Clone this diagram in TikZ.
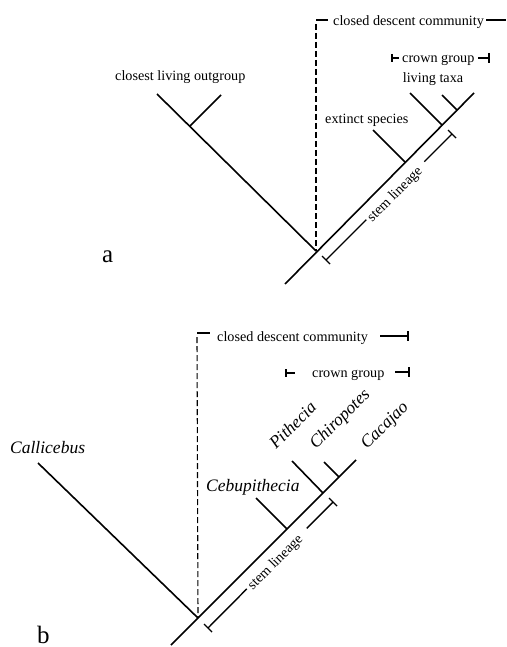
\documentclass[tikz,border=0pt]{standalone}
\usepackage{fontspec}
\setmainfont{Liberation Serif}
\usetikzlibrary{calc}
\begin{document}
\begin{tikzpicture}[x=1pt,y=-1pt,
  branch/.style={line width=1.6pt},
  guide/.style={line width=1.1pt, dash pattern=on 6pt off 3pt},
  guidecap/.style={line width=1.1pt},
  barline/.style={line width=1.4pt},
  lbl/.style={font=\fontsize{14.2}{16}\selectfont, inner sep=0pt},
  taxon/.style={font=\fontsize{17.5}{19}\selectfont\itshape, inner sep=0pt},
  panel/.style={font=\fontsize{25}{28}\selectfont, inner sep=0pt}]
\useasboundingbox (0,0) rectangle (506,647);

% ---------------- panel a ----------------
\coordinate (ra0) at (285,284);
\coordinate (ra) at (316,251);
\coordinate (la) at (157,94);
\coordinate (lja) at (190,126);
\coordinate (lta) at (221,95);
\coordinate (rta) at (474,93);
\coordinate (exj) at (405,162);
\coordinate (ext) at (373,130);
\coordinate (crj) at (442,125);
\coordinate (crt1) at (410,93);
\coordinate (cj2) at (457,110);
\coordinate (crt2) at (442,95);

\draw[branch] (ra0) -- (rta);
\draw[branch] (ra) -- (la);
\draw[branch] (lja) -- (lta);
\draw[branch] (exj) -- (ext);
\draw[branch] (crj) -- (crt1);
\draw[branch] (cj2) -- (crt2);

\node[lbl, anchor=base west] (cdca) at (333,26) {closed descent community};
\coordinate (cdcaR) at (506,20);
\coordinate (cda) at (316,20);
\draw[guidecap] (cda) -- ++(12,0);
\draw[guide] ($(cda)+(0,4)$) -- (ra);
\draw[barline] (cdca.east |- cdcaR) ++(2,0) -- (cdcaR);

\node[lbl, anchor=base west] (cga) at (402,63) {crown group};
\draw[barline] (392,54) -- (392,62);
\draw[barline] (392,58) -- (399,58);
\draw[barline] (478,58) -- (489,58);
\draw[barline] (489,53) -- (489,63);

\node[lbl, anchor=base] (lva) at (433,83) {living taxa};
\node[lbl, anchor=base west] (exa) at (325,124) {extinct species};
\node[lbl, anchor=base west] (cloa) at (115,81) {closest living outgroup};
\node[panel, anchor=base west] (pa) at (102,262) {a};

\coordinate (sa1) at ($(ra)+(10,9)$);
\coordinate (sa2) at ($(crj)+(10,9)$);
\coordinate (sag1) at ($(sa1)!0.32!(sa2)$);
\coordinate (sag2) at ($(sa1)!0.78!(sa2)$);
\draw[barline] (sa1) -- (sag1);
\draw[barline] (sag2) -- (sa2);
\draw[barline] ($(sa1)+(-4,-4)$) -- ($(sa1)+(4,4)$);
\draw[barline] ($(sa2)+(-4,-4)$) -- ($(sa2)+(4,4)$);
\node[lbl, rotate=45] (stema) at ($(sa1)!0.55!(sa2)+(0,4)$) {stem lineage};

% ---------------- panel b ----------------
\coordinate (rb0) at (171,645);
\coordinate (rb) at (198,618);
\coordinate (lb) at (38,463);
\coordinate (rtb) at (356,460);
\coordinate (cebj) at (287,529);
\coordinate (cebt) at (256,498);
\coordinate (pij) at (323,493);
\coordinate (pit) at (292,461);
\coordinate (chj) at (339,477);
\coordinate (cht) at (324,462);

\draw[branch] (rb0) -- (rtb);
\draw[branch] (rb) -- (lb);
\draw[branch] (cebj) -- (cebt);
\draw[branch] (pij) -- (pit);
\draw[branch] (chj) -- (cht);

\node[lbl, anchor=base west] (cdcb) at (217,341) {closed descent community};
\coordinate (cdb) at (197,333);
\draw[guidecap] (cdb) -- ++(13,0);
\draw[guide] ($(cdb)+(0,4)$) -- (rb);
\draw[barline] (380,336) -- (408,336);
\draw[barline] (408,331) -- (408,341);

\node[lbl, anchor=base west] (cgb) at (312,377) {crown group};
\draw[barline] (286,369) -- (286,377);
\draw[barline] (286,373) -- (295,373);
\draw[barline] (395,372) -- (409,372);
\draw[barline] (409,367) -- (409,377);

\node[taxon, anchor=base west] (calb) at (10,453) {Callicebus};
\node[taxon, anchor=base west] (cebb) at (206,491) {Cebupithecia};
\node[taxon, anchor=base west, rotate=45] (pitb) at (276,450) {Pithecia};
\node[taxon, anchor=base west, rotate=45] (chib) at (316,450) {Chiropotes};
\node[taxon, anchor=base west, rotate=45] (cacb) at (367,450) {Cacajao};
\node[panel, anchor=base west] (pb) at (37,643) {b};

\coordinate (sb1) at ($(rb)+(10,10)$);
\coordinate (sb2) at ($(pij)+(10,9)$);
\coordinate (sbg1) at ($(sb1)!0.31!(sb2)$);
\coordinate (sbg2) at ($(sb1)!0.79!(sb2)$);
\draw[barline] (sb1) -- (sbg1);
\draw[barline] (sbg2) -- (sb2);
\draw[barline] ($(sb1)+(-4,-4)$) -- ($(sb1)+(4,4)$);
\draw[barline] ($(sb2)+(-4,-4)$) -- ($(sb2)+(4,4)$);
\node[lbl, rotate=45] (stemb) at ($(sb1)!0.55!(sb2)+(-1,4)$) {stem lineage};
\end{tikzpicture}
\end{document}
